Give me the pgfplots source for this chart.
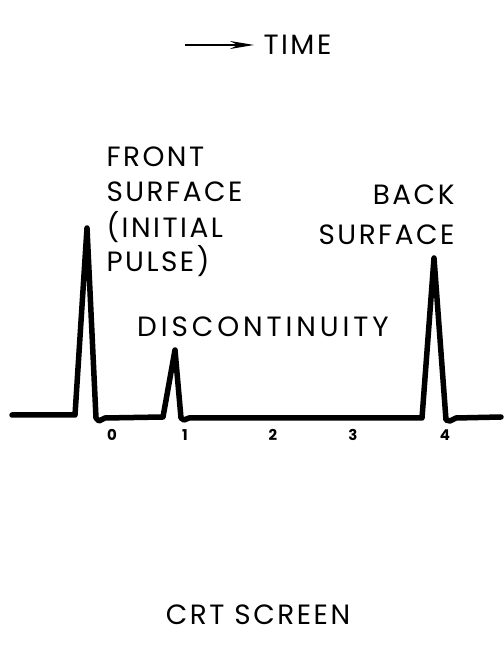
\documentclass[border=0pt]{standalone}
\usepackage{fontspec}
\setmainfont{Poppins}[LetterSpace=9]
\usepackage{pgfplots}
\pgfplotsset{compat=1.18}
\usetikzlibrary{arrows.meta}

\begin{document}
\begin{tikzpicture}
  \begin{axis}[
      width=501bp, height=662bp, scale only axis,
      xmin=0, xmax=501,
      ymin=-246, ymax=416,
      axis x line=middle,
      axis y line=none,
      x axis line style={draw=none},
      xtick={112,185,273,353,445},
      xticklabels={0,1,2,3,4},
      ytick=\empty,
      major tick length=0pt,
      xticklabel style={font=\fontsize{15}{15}\selectfont\bfseries, yshift=-10bp},
      clip=false,
    ]
    % oscilloscope trace
    \addplot[black, line width=5.5bp, line join=round, line cap=round] coordinates {
      (12,1) (75,1) (87,188) (96,-2) (99,-5) (105,-2)
      (163,-1) (175,66) (181,-2) (184,-4) (189,-2)
      (422,-2) (434,158) (446,-4) (450,-5) (456,-2) (501,-1)
    };

    \draw[line width=1.6bp, -{Stealth[length=24bp, width=8bp]}] (axis cs:185,371) -- (axis cs:254,371);
    \node[anchor=west, font=\fontsize{28}{28}\selectfont] at (axis cs:260,371) {TIME};

    \node[anchor=west, font=\fontsize{28}{28}\selectfont] at (axis cs:103,259) {FRONT};
    \node[anchor=west, font=\fontsize{28}{28}\selectfont] at (axis cs:103,224) {SURFACE};
    \node[anchor=west, font=\fontsize{28}{28}\selectfont] at (axis cs:103,189) {(INITIAL};
    \node[anchor=west, font=\fontsize{28}{28}\selectfont] at (axis cs:103,155) {PULSE)};

    \node[anchor=east, font=\fontsize{28}{28}\selectfont] at (axis cs:458,221) {BACK};
    \node[anchor=east, font=\fontsize{28}{28}\selectfont] at (axis cs:458,181) {SURFACE};

    \node[font=\fontsize{28}{28}\selectfont\addfontfeatures{LetterSpace=14}] at (axis cs:263,89) {DISCONTINUITY};

    \node[font=\fontsize{28}{28}\selectfont] at (axis cs:258,-199) {CRT SCREEN};
  \end{axis}
  \useasboundingbox (current axis.south west) rectangle (current axis.north east);
\end{tikzpicture}
\end{document}
